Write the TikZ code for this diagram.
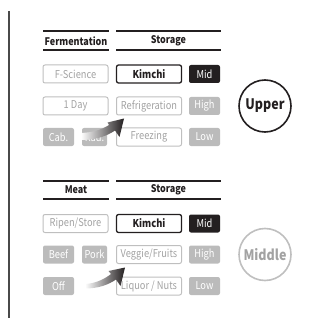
\documentclass[tikz,border=0pt]{standalone}
\usepackage{fontspec}
\setmainfont{Noto Sans CJK KR}
\newfontfamily\boxfont{Noto Sans CJK KR}[FakeStretch=0.86]
\usetikzlibrary{shadings}
\definecolor{ink}{HTML}{231F20}
\definecolor{lightline}{HTML}{BFBFBF}
\definecolor{lighttext}{HTML}{A2A2A2}
\definecolor{grayfill}{HTML}{BBBBBB}
\definecolor{sidebar}{HTML}{4A4A4A}
\tikzset{
  x=1pt, y=-1pt,
  box/.style={rounded corners=2pt, minimum height=18pt, inner sep=0pt, font=\boxfont\fontsize{10.8}{11}\selectfont},
  wide/.style={box, minimum width=65pt},
  narrow/.style={box, minimum width=31pt},
  small/.style={box, minimum width=25pt},
  offbox/.style={draw=lightline, line width=1pt, text=lighttext},
  onbox/.style={draw=ink, line width=1.3pt, text=ink, font=\boxfont\fontsize{10.8}{11}\selectfont\bfseries},
  darkbox/.style={fill=ink, text=white},
  graybox/.style={fill=grayfill, text=white},
  head/.style={font=\boxfont\fontsize{10.5}{11}\selectfont\bfseries, text=ink},
  rule/.style={draw=ink, line width=1.5pt},
  zone/.style={circle, minimum size=52pt, inner sep=0pt, line width=1.6pt, font=\boxfont\fontsize{14.5}{15}\selectfont\bfseries},
}
\begin{document}
\begin{tikzpicture}
\useasboundingbox (0,0) rectangle (320,323);
% left bar
\coordinate (bt) at (9,11);
\coordinate (bb) at (9,318);
\draw[sidebar, line width=1.5pt] (bt) -- (bb);

% ===== Upper section =====
\coordinate (r1a) at (43,31); \coordinate (r1b) at (109,31);
\coordinate (r2a) at (43,50); \coordinate (r2b) at (109,50);
\coordinate (r3a) at (116,31); \coordinate (r3b) at (221,31);
\coordinate (r4a) at (116,50); \coordinate (r4b) at (221,50);
\draw[rule] (r1a) -- (r1b); \draw[rule] (r2a) -- (r2b);
\draw[rule] (r3a) -- (r3b); \draw[rule] (r4a) -- (r4b);
\node[head] (h1) at (76,41) {Fermentation};
\node[head] (h2) at (168.5,41) {Storage};

\node[wide, offbox] (fs) at (75.5,74) {F-Science};
\node[wide, onbox] (k1) at (149,74) {Kimchi};
\node[narrow, darkbox] (m1) at (204.5,74) {Mid};
\node[wide, offbox] (d1) at (75.5,106) {1 Day};
\node[wide, offbox] (rf) at (149,106) {Refrigeration};
\node[narrow, graybox] (hi1) at (204.5,106) {High};
\node[narrow, graybox] (cab) at (58.5,137) {Cab.};
\node[small, graybox] (rad) at (94.5,137) {Rad.};
\node[wide, offbox] (fz) at (149,137) {Freezing};
\node[narrow, graybox] (lo1) at (204.5,137) {Low};
\node[zone, draw=ink, text=ink] (up) at (265,106) {Upper};

% curved arrow (upper)
\shade[left color=white, right color=ink]
  (81,133) .. controls (92,132.5) and (101,130) .. (109,125)
  -- (107.5,122.5) -- (124,118.5) -- (119.5,137) -- (115,130.5)
  .. controls (107,136) and (96,140) .. (81,140) -- cycle;

% ===== Middle section =====
\coordinate (s1a) at (43,181); \coordinate (s1b) at (109,181);
\coordinate (s2a) at (43,199); \coordinate (s2b) at (109,199);
\coordinate (s3a) at (116,181); \coordinate (s3b) at (221,181);
\coordinate (s4a) at (116,199); \coordinate (s4b) at (221,199);
\draw[rule] (s1a) -- (s1b); \draw[rule] (s2a) -- (s2b);
\draw[rule] (s3a) -- (s3b); \draw[rule] (s4a) -- (s4b);
\node[head] (g1) at (76,190) {Meat};
\node[head] (g2) at (168.5,190) {Storage};

\node[wide, offbox] (rs) at (75.5,223.5) {Ripen/Store};
\node[wide, onbox] (k2) at (149,223.5) {Kimchi};
\node[narrow, darkbox] (m2) at (204.5,223.5) {Mid};
\node[narrow, graybox] (beef) at (58.5,254.5) {Beef};
\node[small, graybox] (pork) at (94.5,254.5) {Pork};
\node[wide, offbox] (vf) at (149,254.5) {Veggie/Fruits};
\node[narrow, graybox] (hi2) at (204.5,254.5) {High};
\node[narrow, graybox] (off) at (58.5,286) {Off};
\node[wide, offbox] (ln) at (149,286) {Liquor / Nuts};
\node[narrow, graybox] (lo2) at (204.5,286) {Low};
\node[zone, draw=lightline, text=lighttext] (mid) at (265,254.5) {Middle};

% curved arrow (middle)
\shade[left color=white, right color=ink]
  (85,284) .. controls (95,283.5) and (104,279.5) .. (111,274)
  -- (108.5,271) -- (125,267.5) -- (120.5,286) -- (116,279.5)
  .. controls (108,285) and (98,288.5) .. (85,288.5) -- cycle;
\end{tikzpicture}
\end{document}
